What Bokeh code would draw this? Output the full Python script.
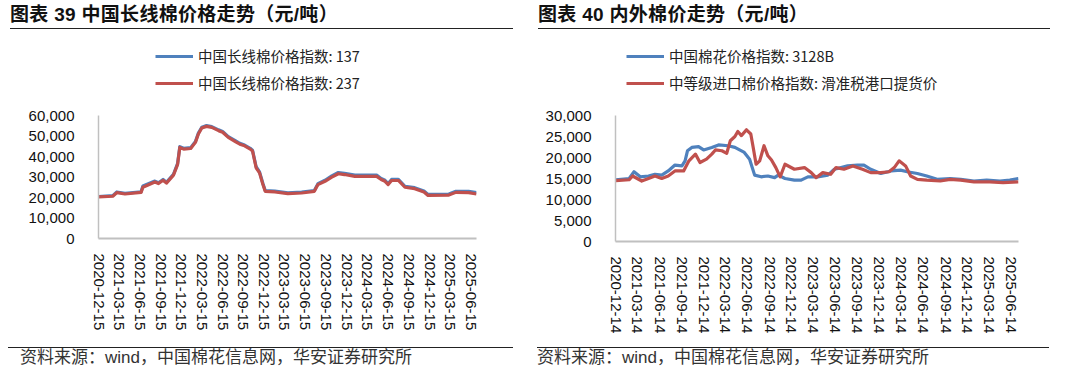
import pandas as pd
from bokeh.plotting import figure
from bokeh.models import (Range1d, FixedTicker, NumeralTickFormatter, DatetimeTickFormatter,
                          Legend, LegendItem, Div)
from bokeh.layouts import row, column
from bokeh.embed import file_html
from bokeh.resources import INLINE

# ---------------- data: chart 39 ----------------
left_title = "图表 39 中国长线棉价格走势（元/吨）"
left_names = ["中国长线棉价格指数: 137", "中国长线棉价格指数: 237"]
left_ticks = ["2020-12-15", "2021-03-15", "2021-06-15", "2021-09-15", "2021-12-15",
              "2022-03-15", "2022-06-15", "2022-09-15", "2022-12-15", "2023-03-15",
              "2023-06-15", "2023-09-15", "2023-12-15", "2024-03-15", "2024-06-15",
              "2024-09-15", "2024-12-15", "2025-03-15", "2025-06-15"]
left_dates = ["2020-12-15", "2021-02-15", "2021-03-05", "2021-04-10", "2021-06-20", "2021-06-28",
              "2021-08-20", "2021-09-05", "2021-09-25", "2021-10-10", "2021-11-10", "2021-11-28",
              "2021-12-08", "2021-12-25", "2022-01-25", "2022-02-15", "2022-02-28", "2022-03-15",
              "2022-04-05", "2022-04-28", "2022-05-28", "2022-06-15", "2022-07-10", "2022-08-10",
              "2022-08-30", "2022-09-20", "2022-10-15", "2022-10-25", "2022-11-10", "2022-11-25",
              "2022-12-10", "2022-12-20", "2023-02-01", "2023-03-30", "2023-05-30", "2023-07-25",
              "2023-08-10", "2023-09-10", "2023-10-10", "2023-11-08", "2023-12-05", "2024-01-20",
              "2024-04-25", "2024-05-15", "2024-06-01", "2024-06-15", "2024-06-30", "2024-07-30",
              "2024-08-28", "2024-10-10", "2024-11-20", "2024-12-08", "2025-03-10", "2025-04-10",
              "2025-06-05", "2025-07-10"]
idx_137 = [20500, 20900, 22700, 22000, 22800, 25600, 28000, 27200, 28800, 27400, 31300, 36500,
           44800, 44000, 44300, 47300, 51400, 54300, 55100, 54600, 53000, 52200, 49700, 47700,
           46400, 45600, 44000, 43100, 35000, 32500, 26800, 23400, 23100, 22300, 22600, 23400,
           26700, 28400, 30500, 32200, 31800, 30900, 30900, 29300, 28400, 26800, 28800, 28900,
           25500, 24800, 23200, 21500, 21700, 23000, 23000, 22400]
idx_237 = [20300, 20600, 22400, 21700, 22500, 25000, 27600, 26800, 28400, 27000, 30900, 36000,
           44400, 43600, 43900, 46900, 51000, 53900, 54700, 54200, 52600, 51800, 49300, 47300,
           46000, 45200, 43600, 42700, 34500, 32000, 26300, 23000, 22700, 21900, 22200, 23000,
           26300, 27900, 29900, 31600, 31200, 30300, 30300, 28800, 27900, 26300, 28300, 28300,
           25000, 24300, 22700, 21000, 21200, 22500, 22400, 21700]
left_yticks = [0, 10000, 20000, 30000, 40000, 50000, 60000]

# ---------------- data: chart 40 ----------------
right_title = "图表 40 内外棉价走势（元/吨）"
right_names = ["中国棉花价格指数: 3128B", "中等级进口棉价格指数: 滑准税港口提货价"]
right_ticks = ["2020-12-14", "2021-03-14", "2021-06-14", "2021-09-14", "2021-12-14",
               "2022-03-14", "2022-06-14", "2022-09-14", "2022-12-14", "2023-03-14",
               "2023-06-14", "2023-09-14", "2023-12-14", "2024-03-14", "2024-06-14",
               "2024-09-14", "2024-12-14", "2025-03-14", "2025-06-14"]
cn_dates = ["2020-12-14", "2021-02-08", "2021-02-28", "2021-03-26", "2021-04-29", "2021-05-26",
            "2021-06-23", "2021-07-20", "2021-08-17", "2021-09-15", "2021-09-28", "2021-10-08",
            "2021-10-26", "2021-11-23", "2021-12-14", "2022-01-17", "2022-02-14", "2022-03-26",
            "2022-04-23", "2022-06-01", "2022-06-23", "2022-07-14", "2022-08-10", "2022-09-07",
            "2022-10-05", "2022-10-20", "2022-11-17", "2022-12-26", "2023-01-23", "2023-02-20",
            "2023-04-01", "2023-05-14", "2023-06-10", "2023-07-08", "2023-08-04", "2023-09-14",
            "2023-10-11", "2023-11-08", "2023-12-20", "2024-02-01", "2024-03-11", "2024-04-08",
            "2024-05-20", "2024-06-28", "2024-08-10", "2024-10-03", "2024-11-16", "2025-01-10",
            "2025-03-04", "2025-04-28", "2025-06-08", "2025-07-14"]
cn_3128b = [14700, 15000, 16600, 15400, 15600, 16000, 15800, 16800, 18200, 18000, 19200, 21600,
            22400, 22600, 21800, 22400, 23000, 22800, 22400, 21200, 19600, 15800, 15400, 15600,
            15200, 15800, 15000, 14600, 14600, 15400, 15400, 15800, 17200, 17600, 18000, 18200,
            18200, 17200, 16200, 16800, 17000, 16600, 16200, 15600, 14800, 15000, 14800, 14400,
            14600, 14400, 14600, 15000]
imp_dates = ["2020-12-14", "2021-02-08", "2021-02-22", "2021-04-01", "2021-04-29", "2021-05-26",
             "2021-06-23", "2021-07-20", "2021-08-17", "2021-09-22", "2021-10-14", "2021-11-10",
             "2021-11-29", "2021-12-26", "2022-01-17", "2022-02-01", "2022-02-28", "2022-03-20",
             "2022-04-04", "2022-04-23", "2022-05-05", "2022-05-20", "2022-06-10", "2022-06-28",
             "2022-07-08", "2022-07-20", "2022-08-04", "2022-08-22", "2022-09-07", "2022-09-22",
             "2022-10-10", "2022-10-28", "2022-11-17", "2022-12-26", "2023-02-06", "2023-03-06",
             "2023-03-26", "2023-04-23", "2023-05-26", "2023-06-17", "2023-07-20", "2023-08-26",
             "2023-10-05", "2023-11-08", "2023-12-20", "2024-01-23", "2024-02-14", "2024-03-05",
             "2024-04-01", "2024-04-22", "2024-05-20", "2024-06-28", "2024-08-23", "2024-10-03",
             "2024-11-16", "2025-01-10", "2025-03-17", "2025-05-11", "2025-07-14"]
imp_price = [14500, 14700, 15600, 14400, 15000, 15600, 15000, 15600, 16800, 16800, 19200, 20800,
             18800, 19600, 20800, 21800, 21600, 21000, 24000, 25000, 26200, 25200, 26600, 25600,
             22400, 18400, 19200, 22800, 20400, 19400, 17600, 15400, 18400, 17200, 17600, 16400,
             15200, 16400, 16000, 17600, 17200, 18000, 17200, 16400, 16400, 16600, 17600, 19200,
             18000, 15600, 14800, 14600, 14400, 14800, 14600, 14200, 14200, 14000, 14200]
right_yticks = [0, 5000, 10000, 15000, 20000, 25000, 30000]

source = "资料来源：wind，中国棉花信息网，华安证券研究所"

BLUE = "#4F81BD"
RED = "#C0504D"
AXIS_FONT = "Liberation Sans"
CJK_FONT = "Noto Sans CJK SC"

FIG_TOP = 29      # page y of figure canvas top
FIG_H = 318
FRAME_TOP = 40    # page y of frame top (legend lives inside frame above the data area)
AXIS_TOP = 115    # page y where the top tick value sits


def ms(strings):
    return [float(v) for v in (pd.to_datetime(strings).astype("int64") // 10**6)]


def make_fig(width, bl, br, zero_y, x_start, x_end, yticks, xticks, s1, s2, names, legend_x):
    y_max = yticks[-1]
    frame_h = zero_y - FRAME_TOP
    y_end = y_max * frame_h / (zero_y - AXIS_TOP)
    p = figure(width=width, height=FIG_H, x_axis_type="datetime", output_backend="svg",
               toolbar_location=None, min_border_left=bl, min_border_right=br,
               min_border_top=FRAME_TOP - FIG_TOP,
               min_border_bottom=FIG_TOP + FIG_H - zero_y,
               x_range=Range1d(ms([x_start])[0], ms([x_end])[0]),
               y_range=Range1d(0, y_end))
    p.outline_line_color = None
    p.xgrid.visible = False
    p.ygrid.visible = False
    p.background_fill_color = "white"
    p.border_fill_color = "white"

    r1 = p.line(ms(s1[0]), s1[1], line_color=BLUE, line_width=3.2, line_join="round")
    r2 = p.line(ms(s2[0]), s2[1], line_color=RED, line_width=3.2, line_join="round")

    fmt = "%Y-%m-%d"
    xa = p.xaxis[0]
    xa.ticker = FixedTicker(ticks=ms(xticks))
    xa.formatter = DatetimeTickFormatter(milliseconds=fmt, seconds=fmt, minsec=fmt, minutes=fmt,
                                         hourmin=fmt, hours=fmt, days=fmt, months=fmt, years=fmt)
    xa.major_label_orientation = "vertical"
    xa.major_label_standoff = 9
    xa.major_tick_line_color = None
    xa.minor_tick_line_color = None
    xa.axis_line_color = "#c0c0c0"
    xa.axis_line_width = 2
    xa.major_label_text_font = AXIS_FONT
    xa.major_label_text_font_size = "15px"
    xa.major_label_text_color = "#111111"

    ya = p.yaxis[0]
    ya.ticker = FixedTicker(ticks=yticks)
    ya.bounds = (0, y_max)
    ya.formatter = NumeralTickFormatter(format="0,0")
    ya.major_tick_line_color = None
    ya.minor_tick_line_color = None
    ya.axis_line_color = "#c0c0c0"
    ya.axis_line_width = 1.5
    ya.major_label_standoff = 18
    ya.major_label_text_font = AXIS_FONT
    ya.major_label_text_font_size = "15px"
    ya.major_label_text_color = "#111111"

    legend_bottom = 93  # page y of the legend's lower edge
    legend = Legend(items=[LegendItem(label=names[0], renderers=[r1]),
                           LegendItem(label=names[1], renderers=[r2])],
                    location=(legend_x, zero_y - legend_bottom), orientation="vertical",
                    glyph_width=38, glyph_height=20, label_height=20, spacing=6,
                    padding=0, margin=0, label_standoff=5,
                    border_line_color=None, background_fill_alpha=0,
                    label_text_font=CJK_FONT, label_text_font_size="14.5px",
                    label_text_color="#222222")
    p.add_layout(legend)
    return p


def header(text, line_width, pad, total):
    return Div(text=(f'<div style="margin-left:{pad}px;width:{line_width}px;height:29px;'
                     f'box-sizing:border-box;padding-top:5px;'
                     f'border-bottom:1.5px solid #222;font-weight:bold;font-size:19px;'
                     f"font-family:'Liberation Sans','Noto Sans CJK SC';line-height:20px;"
                     f'letter-spacing:0.3px;color:#111;white-space:nowrap;">{text}</div>'),
               width=total, height=29, margin=(0, 0, 0, 0))


def footer(text, line_width, line_pad, text_pad, total):
    return Div(text=(f'<div style="margin-left:{line_pad}px;width:{line_width}px;height:26px;'
                     f'box-sizing:border-box;border-top:1.5px solid #222;font-size:17px;'
                     f"font-family:'Liberation Sans','Noto Sans CJK SC';line-height:20px;"
                     f'color:#333;white-space:nowrap;padding-left:{text_pad}px;">{text}</div>'),
               width=total, height=26, margin=(0, 0, 0, 0))


p_left = make_fig(536, 98, 60, 238, "2020-12-14", "2025-07-10", left_yticks, left_ticks,
                  (left_dates, idx_137), (left_dates, idx_237), left_names, 57)
p_right = make_fig(544, 79, 62, 241, "2020-12-13", "2025-07-14", right_yticks, right_ticks,
                   (cn_dates, cn_3128b), (imp_dates, imp_price), right_names, 11)

left_col = column(header(left_title, 503, 10, 536), p_left, footer(source, 505, 8, 12, 536),
                  spacing=0, width=536)
right_col = column(header(right_title, 512, 2, 544), p_right, footer(source, 512, 1, 0, 544),
                   spacing=0, width=544)
layout = row(left_col, right_col, spacing=0)

open("out.html", "w").write(file_html(layout, INLINE))
